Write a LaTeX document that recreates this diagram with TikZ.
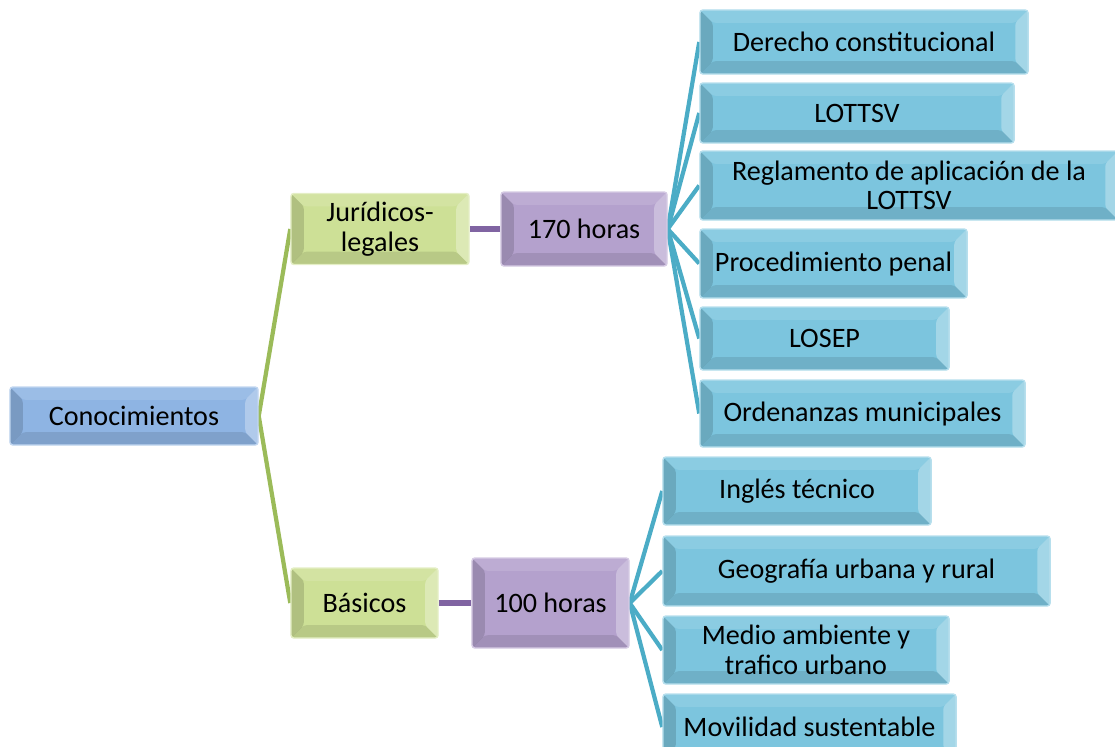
\documentclass[tikz,border=0pt]{standalone}
\usepackage{fontspec}
\setmainfont{Carlito}
\usetikzlibrary{backgrounds}
\definecolor{cBlue}{RGB}{142,180,227}
\definecolor{cGreen}{RGB}{205,224,150}
\definecolor{cPurple}{RGB}{180,161,205}
\definecolor{cCyan}{RGB}{124,197,222}
\definecolor{lGreen}{RGB}{155,187,89}
\definecolor{lPurple}{RGB}{128,100,162}
\definecolor{lCyan}{RGB}{75,172,198}
\tikzset{
  bev/.style={rectangle, rounded corners=2pt, fill=#1, draw=#1!55!white, line width=1pt,
    inner sep=0pt, align=center, font=\fontsize{20}{21}\selectfont, text=black,
    path picture={
      \path (path picture bounding box.north west) coordinate (pNW)
            (path picture bounding box.north east) coordinate (pNE)
            (path picture bounding box.south west) coordinate (pSW)
            (path picture bounding box.south east) coordinate (pSE);
      \fill[black,opacity=.14] (pNW) -- ([shift={(0.32cm,-0.32cm)}]pNW) -- ([shift={(0.32cm,0.32cm)}]pSW) -- (pSW) -- cycle;
      \fill[black,opacity=.10] (pSW) -- ([shift={(0.32cm,0.32cm)}]pSW) -- ([shift={(-0.32cm,0.32cm)}]pSE) -- (pSE) -- cycle;
      \fill[white,opacity=.12] (pNW) -- ([shift={(0.32cm,-0.32cm)}]pNW) -- ([shift={(-0.32cm,-0.32cm)}]pNE) -- (pNE) -- cycle;
      \fill[white,opacity=.30] (pNE) -- ([shift={(-0.32cm,-0.32cm)}]pNE) -- ([shift={(-0.32cm,0.32cm)}]pSE) -- (pSE) -- cycle;
    }},
  gline/.style={draw=lGreen, line width=3pt},
  pline/.style={draw=lPurple, line width=4pt},
  cline/.style={draw=lCyan, line width=3pt},
}
\begin{document}
\begin{tikzpicture}[x=0.025cm,y=-0.025cm]
\useasboundingbox (0,0) rectangle (1115,746);
% root
\node[bev=cBlue, minimum width=6.2cm, minimum height=1.45cm] (con) at (134,416) {Conocimientos};
% level 1
\node[bev=cGreen, minimum width=4.45cm, minimum height=1.775cm] (jur) at (380,229) {Jurídicos-\\legales};
\node[bev=cGreen, minimum width=3.675cm, minimum height=1.75cm] (bas) at (364.5,603) {Básicos};
% level 2
\node[bev=cPurple, minimum width=4.15cm, minimum height=1.85cm] (h170) at (584,229) {170 horas};
\node[bev=cPurple, minimum width=3.925cm, minimum height=2.25cm] (h100) at (550.5,603) {100 horas};
% level 3 upper
\node[bev=cCyan, minimum width=8.2cm, minimum height=1.6cm] (d1) at (864,42) {Derecho constitucional};
\node[bev=cCyan, minimum width=7.85cm, minimum height=1.5cm] (d2) at (857,113) {LOTTSV};
\node[bev=cCyan, minimum width=10.45cm, minimum height=1.725cm] (d3) at (909,185.5) {Reglamento de aplicación de la\\LOTTSV};
\node[bev=cCyan, minimum width=6.675cm, minimum height=1.725cm] (d4) at (833.5,263.5) {Procedimiento penal};
\node[bev=cCyan, minimum width=6.225cm, minimum height=1.575cm] (d5) at (824.5,338.5) {LOSEP};
\node[bev=cCyan, minimum width=8.125cm, minimum height=1.675cm] (d6) at (862.5,413.5) {Ordenanzas municipales};
% level 3 lower
\node[bev=cCyan, minimum width=6.7cm, minimum height=1.7cm] (b1) at (797,491) {Inglés técnico};
\node[bev=cCyan, minimum width=9.675cm, minimum height=1.75cm] (b2) at (856.5,571) {Geografía urbana y rural};
\node[bev=cCyan, minimum width=7.15cm, minimum height=1.7cm] (b3) at (806,650) {Medio ambiente y\\trafico urbano};
\node[bev=cCyan, minimum width=7.325cm, minimum height=1.65cm] (b4) at (809.5,727) {Movilidad sustentable};
\begin{scope}[on background layer]
\draw[gline] (con.east) -- (jur.west);
\draw[gline] (con.east) -- (bas.west);
\draw[pline] (jur.east) -- (h170.west);
\draw[pline] (bas.east) -- (h100.west);
\foreach \n in {d1,d2,d3,d4,d5,d6} \draw[cline] (h170.east) -- (\n.west);
\foreach \n in {b1,b2,b3,b4} \draw[cline] (h100.east) -- (\n.west);
\end{scope}
\end{tikzpicture}
\end{document}
